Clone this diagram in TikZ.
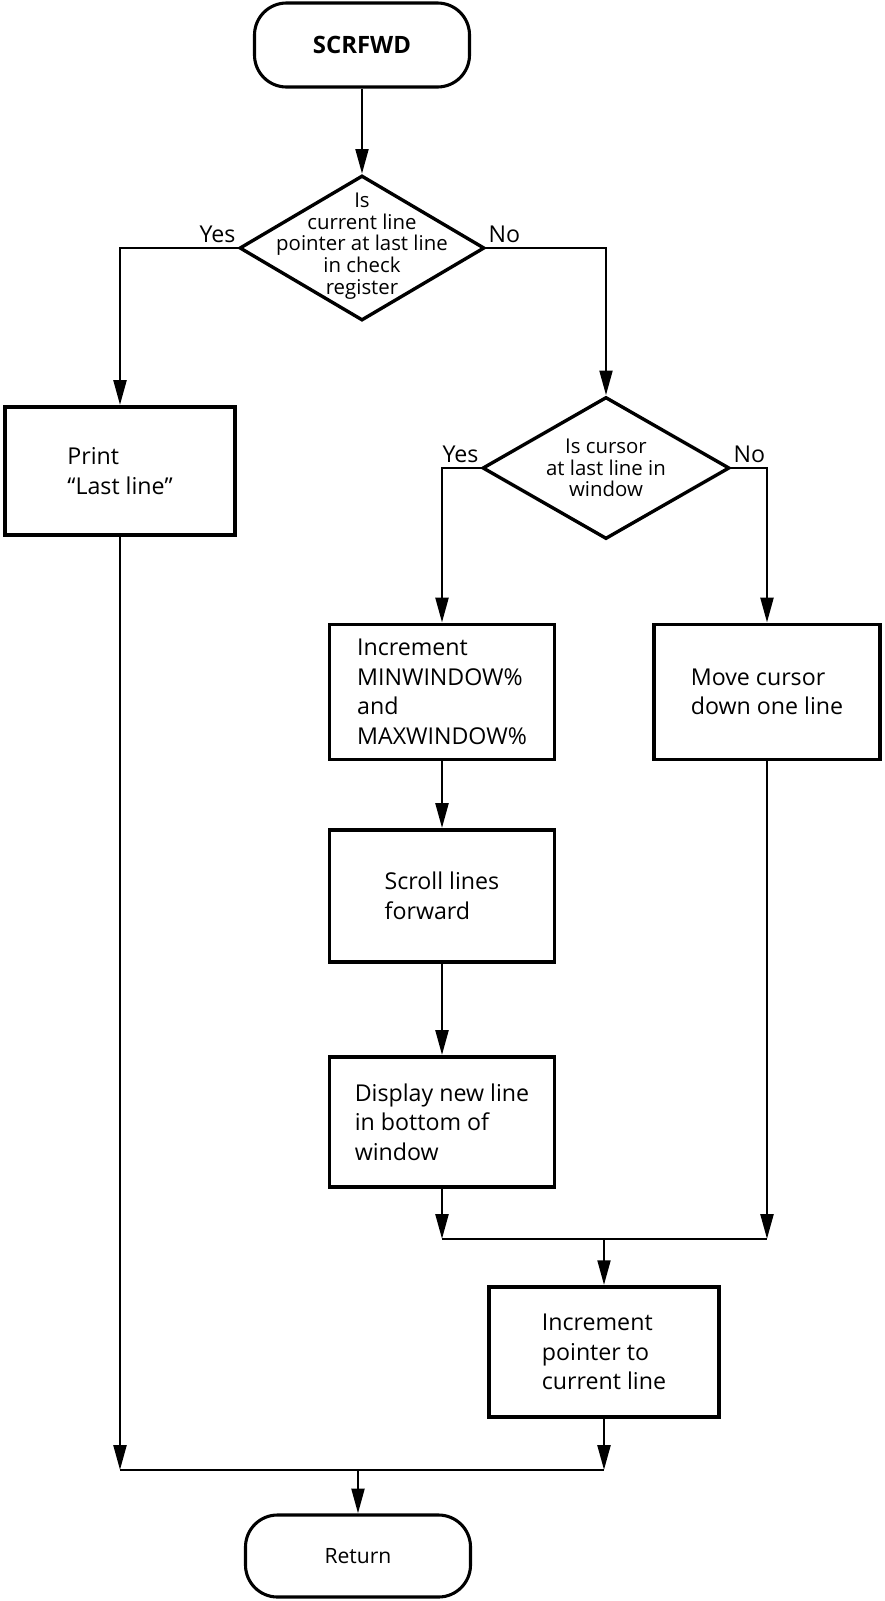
\documentclass[tikz,border=0pt]{standalone}
\usepackage{fontspec}
\setmainfont{Open Sans}
\usepackage{tikz}
\usetikzlibrary{shapes.geometric, arrows.meta}

\tikzset{
  term/.style={draw, line width=2.2pt, rounded corners=0.8cm, minimum width=5.375cm, minimum height=2.1cm, font=\fontsize{17}{20}\selectfont\bfseries},
  proc/.style={draw, line width=2.8pt, minimum width=5.625cm, minimum height=3.3cm, align=left, font=\fontsize{16.5}{21}\selectfont},
  decision/.style={draw, diamond, line width=2.4pt, inner sep=0pt},
  dtext/.style={align=center, font=\fontsize{14.5}{15.5}\selectfont},
  yesno/.style={font=\fontsize{16.5}{19}\selectfont, inner sep=1.5pt},
  flow/.style={line width=1.9pt, -{Triangle[length=0.62cm, width=0.32cm]}},
  joinline/.style={line width=1.9pt},
}

\begin{document}
\begin{tikzpicture}
  \useasboundingbox (0,0) rectangle (22.1,-40.025);

  % Terminals
  \node[term] (start) at (9.05,-1.125) {SCRFWD};
  \node[term, minimum width=5.625cm, minimum height=2.05cm, font=\fontsize{15}{18}\selectfont] (ret) at (8.95,-38.9) {Return};

  % Decisions
  \node[decision, minimum width=6.125cm, minimum height=3.625cm,
        label={[dtext, yshift=0.05cm]center:{Is\\current line\\pointer at last line\\in check\\register}}] (lastln) at (9.05,-6.2) {};
  \node[decision, minimum width=6.175cm, minimum height=3.55cm,
        label={[dtext]center:{Is cursor\\at last line in\\window}}] (atbot) at (15.15,-11.7) {};

  % Yes / No
  \node[yesno, anchor=south east, yshift=2pt] (yes1) at (lastln.west) {Yes};
  \node[yesno, anchor=south west, yshift=2pt] (no1) at (lastln.east) {No};
  \node[yesno, anchor=south east, yshift=2pt] (yes2) at (atbot.west) {Yes};
  \node[yesno, anchor=south west, yshift=2pt] (no2) at (atbot.east) {No};

  % Process boxes
  \node[proc, minimum width=5.75cm, minimum height=3.2cm] (print) at (3.0,-11.775) {Print\\“Last line”};
  \node[proc, minimum height=3.375cm] (incwin) at (11.05,-17.3) {Increment\\MINWINDOW\%\\and\\MAXWINDOW\%};
  \node[proc, minimum width=5.65cm, minimum height=3.375cm] (move) at (19.175,-17.3) {Move cursor\\down one line};
  \node[proc] (scroll) at (11.05,-22.4) {Scroll lines\\forward};
  \node[proc, minimum height=3.25cm] (disp) at (11.05,-28.05) {Display new line\\in bottom of\\window};
  \node[proc, minimum width=5.75cm, minimum height=3.25cm] (ptr) at (15.1,-33.8) {Increment\\pointer to\\current line};

  % Junctions
  \coordinate (j1l) at (11.05,-30.975);
  \coordinate (j1r) at (19.175,-30.975);
  \coordinate (j1) at (15.1,-30.975);
  \coordinate (j2l) at (3.0,-36.75);
  \coordinate (j2r) at (15.1,-36.75);
  \coordinate (j2) at (8.95,-36.75);

  % Flow
  \draw[flow] (start) -- (lastln);
  \draw[flow] (lastln.west) -| (print.north);
  \draw[flow] (lastln.east) -| (atbot.north);
  \draw[flow] (atbot.west) -| (incwin.north);
  \draw[flow] (atbot.east) -| (move.north);
  \draw[flow] (incwin) -- (scroll);
  \draw[flow] (scroll) -- (disp);
  \draw[flow] (disp) -- (j1l);
  \draw[flow] (move) -- (j1r);
  \draw[joinline] (j1l) -- (j1r);
  \draw[flow] (j1) -- (ptr);
  \draw[flow] (print) -- (j2l);
  \draw[flow] (ptr) -- (j2r);
  \draw[joinline] (j2l) -- (j2r);
  \draw[flow] (j2) -- (ret);
\end{tikzpicture}
\end{document}
